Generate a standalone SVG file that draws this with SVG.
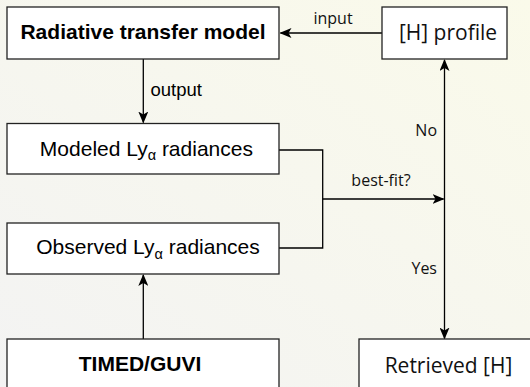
<svg xmlns="http://www.w3.org/2000/svg" width="530" height="387" viewBox="0 0 530 387">
<defs>
<linearGradient id="bg" x1="1" y1="0" x2="0" y2="1">
<stop offset="0" stop-color="#fafaea"/>
<stop offset="1" stop-color="#f3f3f3"/>
</linearGradient>
<marker id="ah" viewBox="0 0 12 10" refX="11" refY="5" markerWidth="12" markerHeight="10" markerUnits="userSpaceOnUse" orient="auto">
<path d="M0,0 L12,5 L0,10 L3,5 Z" fill="#000"/>
</marker>
</defs>
<style>
.box{fill:#fff;stroke:#222;stroke-width:1.3}
.ar{font-family:"Liberation Sans",Arial,sans-serif;fill:#000}
.b{font-weight:bold;font-size:21px}
.r{font-size:21px}
.os{font-family:"Open Sans","DejaVu Sans",sans-serif;fill:#111}
.lbl{font-size:16px}
.big{font-size:21px}
.ln{fill:none;stroke:#000;stroke-width:1.3}
</style>
<rect width="530" height="387" fill="url(#bg)"/>
<g id="connectors">
<line class="ln" x1="382" y1="33" x2="280.5" y2="33" marker-end="url(#ah)"/>
<line class="ln" x1="143.3" y1="59" x2="143.3" y2="122.5" marker-end="url(#ah)"/>
<line class="ln" x1="143.3" y1="339" x2="143.3" y2="275" marker-end="url(#ah)"/>
<polyline class="ln" points="279,150 322.7,150 322.7,248 279,248"/>
<line class="ln" x1="322.7" y1="199" x2="443.5" y2="199" marker-end="url(#ah)"/>
<line class="ln" x1="444.5" y1="199" x2="444.5" y2="60" marker-end="url(#ah)"/>
<line class="ln" x1="444.5" y1="199" x2="444.5" y2="338.5" marker-end="url(#ah)"/>
<text class="os lbl" x="333" y="24" text-anchor="middle">input</text>
<text class="ar" x="150.5" y="95.5" font-size="18.5">output</text>
<text class="os lbl" x="381" y="186" text-anchor="middle">best-fit?</text>
<text class="os lbl" x="437" y="136" text-anchor="end">No</text>
<text class="os lbl" x="437" y="274" text-anchor="end">Yes</text>
</g>
<g id="rtm">
<rect class="box" x="7" y="7" width="272" height="52"/>
<text class="ar b" x="143" y="39.3" text-anchor="middle">Radiative transfer model</text>
</g>
<g id="hprofile">
<rect class="box" x="382" y="7" width="125" height="52"/>
<text class="os big" x="448" y="40" text-anchor="middle">[H] profile</text>
</g>
<g id="modeled">
<rect class="box" x="7" y="123.5" width="272" height="50.5"/>
<text class="ar r" x="146.4" y="155.5" text-anchor="middle">Modeled Ly<tspan font-size="14.5" dy="4.5">α</tspan><tspan dy="-4.5"> radiances</tspan></text>
</g>
<g id="observed">
<rect class="box" x="7" y="223" width="272" height="51"/>
<text class="ar r" x="148" y="254" text-anchor="middle">Observed Ly<tspan font-size="14.5" dy="4.5">α</tspan><tspan dy="-4.5"> radiances</tspan></text>
</g>
<g id="timed">
<rect class="box" x="7" y="339" width="272" height="60"/>
<text class="ar b" x="140" y="371" text-anchor="middle">TIMED/GUVI</text>
</g>
<g id="retrieved">
<rect class="box" x="359" y="339" width="180" height="60"/>
<text class="os big" x="448.5" y="372.7" text-anchor="middle">Retrieved [H]</text>
</g>
</svg>
